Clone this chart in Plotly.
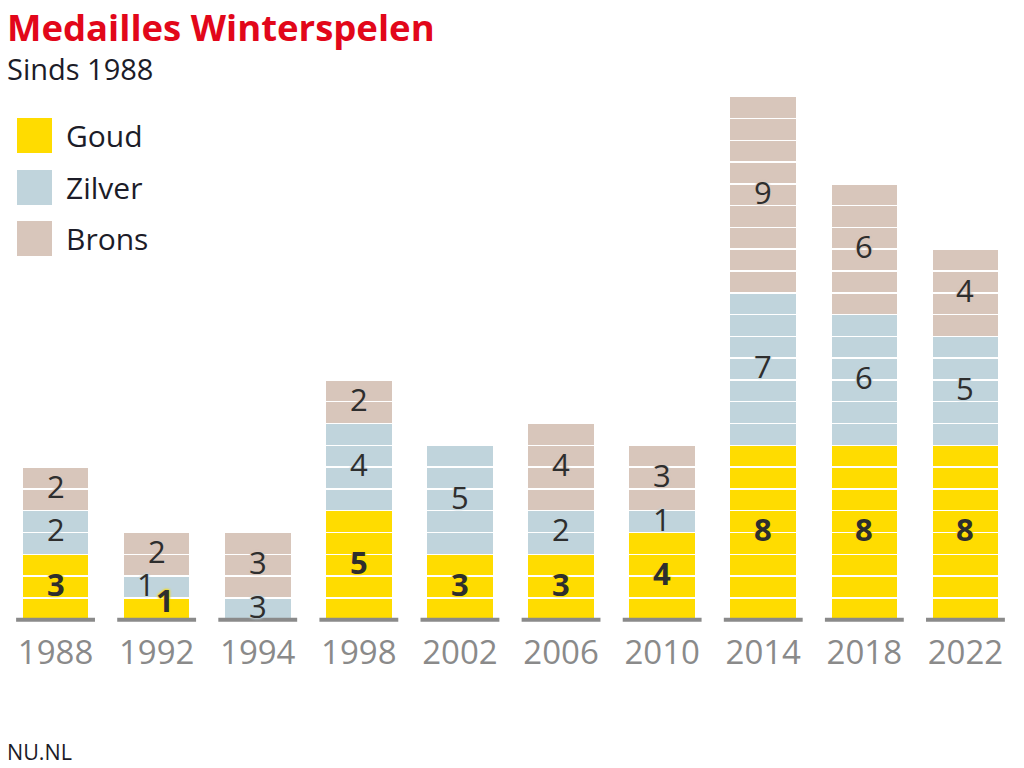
import plotly.graph_objects as go

years = ["1988", "1992", "1994", "1998", "2002", "2006", "2010", "2014", "2018", "2022"]
goud = [3, 1, 0, 5, 3, 3, 4, 8, 8, 8]
zilver = [2, 1, 1, 4, 5, 2, 1, 7, 6, 5]
brons = [2, 2, 3, 2, 0, 4, 3, 9, 6, 4]
goud_text = ["3", "1", "", "5", "3", "3", "4", "8", "8", "8"]
zilver_text = ["2", "1", "3", "4", "5", "2", "1", "7", "6", "5"]
brons_text = ["2", "2", "3", "2", "", "4", "3", "9", "6", "4"]

C_GOUD = "#FFDC00"
C_ZILVER = "#C0D4DC"
C_BRONS = "#D8C6BB"
FONT = "Open Sans"

UNIT = 21.79          # pixels per medal
BASE_PX = 620         # pixel row of the zero line
Y_LOW = -0.2

W, H = 1024, 768
L, R, T = 5, 8, 54
B = int(round(H - (BASE_PX - Y_LOW * UNIT)))
PH = H - T - B
PW = W - L - R
Y_HIGH = Y_LOW + PH / UNIT


def py(p):
    return (H - B - p) / PH


def px(p):
    return (p - L) / PW


fig = go.Figure()

series = [(goud, C_GOUD), (zilver, C_ZILVER), (brons, C_BRONS)]
for counts, color in series:
    for k in range(max(counts)):
        fig.add_trace(go.Bar(
            x=years,
            y=[1 if c > k else None for c in counts],
            marker=dict(color=color, line=dict(color="white", width=1.5)),
            showlegend=False, hoverinfo="skip",
        ))

shapes = []
# baseline segments under each bar
for i, yr in enumerate(years):
    shapes.append(dict(type="line", xref="x", yref="y", x0=i - 0.39, x1=i + 0.39, y0=0, y1=0,
                       line=dict(color="#8A8A8A", width=4), layer="above"))

annotations = []
shifts = {("g", "1992"): (8, 9), ("z", "1992"): (-11, 3)}
for i, yr in enumerate(years):
    base = 0
    for key, counts, texts, color, bold in [("g", goud, goud_text, C_GOUD, True),
                                            ("z", zilver, zilver_text, C_ZILVER, False),
                                            ("b", brons, brons_text, C_BRONS, False)]:
        c = counts[i]
        if c > 0 and texts[i]:
            xs, ys = shifts.get((key, yr), (0, 3))
            annotations.append(dict(
                x=i, y=base + c / 2, xref="x", yref="y", text=texts[i],
                showarrow=False, xshift=xs, yshift=ys,
                font=dict(family=FONT, size=31, color="#2E2E2E",
                          weight=700 if bold else 400,
                          shadow=f"0 0 3px {color}, 0 0 3px {color}, 0 0 2px {color}"),
            ))
        base += c

# title, subtitle, source
annotations.append(dict(x=px(5), y=py(0), xref="paper", yref="paper", text="Medailles Winterspelen",
                        showarrow=False, xanchor="left", yanchor="top",
                        font=dict(family=FONT, size=36.5, color="#E2071A", weight=700)))
annotations.append(dict(x=px(5), y=py(69), xref="paper", yref="paper", text="Sinds 1988",
                        showarrow=False, xanchor="left", yanchor="middle",
                        font=dict(family=FONT, size=29, color="#1C1C28")))
annotations.append(dict(x=px(5), y=py(751), xref="paper", yref="paper", text="NU.NL",
                        showarrow=False, xanchor="left", yanchor="middle",
                        font=dict(family=FONT, size=21.5, color="#1C1C28")))

# legend
legend_items = [("Goud", C_GOUD, 135.5), ("Zilver", C_ZILVER, 187.5), ("Brons", C_BRONS, 238.5)]
for name, color, yc in legend_items:
    shapes.append(dict(type="rect", xref="paper", yref="paper",
                       x0=px(17), x1=px(52), y0=py(yc - 17.5), y1=py(yc + 17.5),
                       fillcolor=color, line=dict(width=0)))
    annotations.append(dict(x=px(64), y=py(yc), xref="paper", yref="paper", text=name,
                            showarrow=False, xanchor="left", yanchor="middle",
                            font=dict(family=FONT, size=30, color="#1C1C28")))

fig.update_layout(
    width=W, height=H, barmode="stack", bargap=0.337,
    margin=dict(l=L, r=R, t=T, b=B),
    paper_bgcolor="white", plot_bgcolor="white",
    annotations=annotations, shapes=shapes,
    xaxis=dict(type="category", range=[-0.5, 9.5], showgrid=False, zeroline=False,
               showline=False, ticks="", ticklabelstandoff=6,
               tickfont=dict(family=FONT, size=33, color="#8A8A8A")),
    yaxis=dict(range=[Y_LOW, Y_HIGH], visible=False, fixedrange=True),
    showlegend=False,
)

fig.write_html("out.html")
